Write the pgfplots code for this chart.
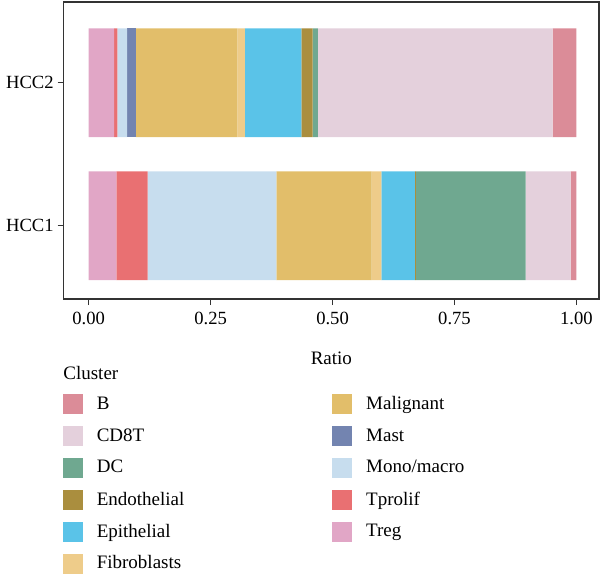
\documentclass[border=0pt]{standalone}
\usepackage{fontspec}
\setmainfont{Liberation Serif}
\usepackage{pgfplots}
\pgfplotsset{compat=1.18}
\definecolor{cB}{HTML}{DB8C98}
\definecolor{cCD}{HTML}{E4D0DC}
\definecolor{cDC}{HTML}{6FA890}
\definecolor{cEndo}{HTML}{AA8E3E}
\definecolor{cEpi}{HTML}{5AC3E8}
\definecolor{cFib}{HTML}{EECC8A}
\definecolor{cMal}{HTML}{E2BE6A}
\definecolor{cMast}{HTML}{7384B0}
\definecolor{cMono}{HTML}{C7DDEE}
\definecolor{cTp}{HTML}{E97072}
\definecolor{cTreg}{HTML}{E1A6C6}
\pgfplotsset{sq/.style={legend image code/.code={\fill[#1] (0pt,-4.75pt) rectangle (9.5pt,4.75pt);}}}
\newcommand{\lb}[1]{\makebox[100pt][l]{#1}}
\begin{document}
\begin{tikzpicture}[x=1pt,y=1pt]
\useasboundingbox (0,0) rectangle (300,287);
\begin{axis}[
  at={(31.85pt,137.5pt)}, anchor=south west,
  scale only axis, width=267.65pt, height=148.5pt,
  xbar stacked, bar width=0.76,
  xmin=-0.0512, xmax=1.0463, ymin=-0.5126, ymax=1.564,
  ytick={0,1}, yticklabels={HCC1,HCC2},
  xtick={0,0.25,0.5,0.75,1},
  xticklabel={\pgfmathprintnumber[fixed,fixed zerofill,precision=2]{\tick}},
  /pgf/number format/assume math mode=true,
  tick align=outside, major tick length=3pt, xtick pos=bottom, ytick pos=left,
  tick style={line width=0.6pt, color=black!80},
  axis line style={line width=0.6pt, color=black!80},
  ticklabel style={font=\fontsize{9.3}{11}\selectfont},
  yticklabel style={xshift=1.5pt},
  xlabel={Ratio}, xlabel style={font=\fontsize{9.5}{11}\selectfont,
    at={(axis description cs:0.5,0)}, anchor=base, yshift=-32.5pt},
  legend columns=2, legend cell align=left,
  legend style={at={(-0.0013,-0.3215)}, anchor=north west, draw=none, fill=none,
    inner sep=0pt, outer sep=0pt, row sep=6.05pt,
    font=\fontsize{9.5}{11}\selectfont, nodes={inner sep=0pt},
    /tikz/every odd column/.append style={column sep=7pt},
    /tikz/every even column/.append style={column sep=17.8pt}},
]
\addplot[fill=cTreg, draw=none, forget plot] coordinates {(0.057,0) (0.052,1)};
\addplot[fill=cTp, draw=none, forget plot] coordinates {(0.064,0) (0.007,1)};
\addplot[fill=cMono, draw=none, forget plot] coordinates {(0.264,0) (0.020,1)};
\addplot[fill=cMast, draw=none, forget plot] coordinates {(0,0) (0.018,1)};
\addplot[fill=cMal, draw=none, forget plot] coordinates {(0.195,0) (0.208,1)};
\addplot[fill=cFib, draw=none, forget plot] coordinates {(0.020,0) (0.015,1)};
\addplot[fill=cEpi, draw=none, forget plot] coordinates {(0.069,0) (0.116,1)};
\addplot[fill=cEndo, draw=none, forget plot] coordinates {(0.002,0) (0.023,1)};
\addplot[fill=cDC, draw=none, forget plot] coordinates {(0.225,0) (0.011,1)};
\addplot[fill=cCD, draw=none, forget plot] coordinates {(0.092,0) (0.481,1)};
\addplot[fill=cB, draw=none, forget plot] coordinates {(0.012,0) (0.049,1)};
\addlegendimage{sq=cB}\addlegendentry{\lb{B}}
\addlegendimage{sq=cMal}\addlegendentry{\lb{Malignant}}
\addlegendimage{sq=cCD}\addlegendentry{\lb{CD8T}}
\addlegendimage{sq=cMast}\addlegendentry{\lb{Mast}}
\addlegendimage{sq=cDC}\addlegendentry{\lb{DC}}
\addlegendimage{sq=cMono}\addlegendentry{\lb{Mono/macro}}
\addlegendimage{sq=cEndo}\addlegendentry{\lb{Endothelial}}
\addlegendimage{sq=cTp}\addlegendentry{\lb{Tprolif}}
\addlegendimage{sq=cEpi}\addlegendentry{\lb{Epithelial}}
\addlegendimage{sq=cTreg}\addlegendentry{\lb{Treg}}
\addlegendimage{sq=cFib}\addlegendentry{\lb{Fibroblasts}}
\end{axis}
\node[anchor=west, inner sep=0pt, font=\fontsize{9.5}{11}\selectfont] at (31.5,100.5) {Cluster};
\end{tikzpicture}
\end{document}
